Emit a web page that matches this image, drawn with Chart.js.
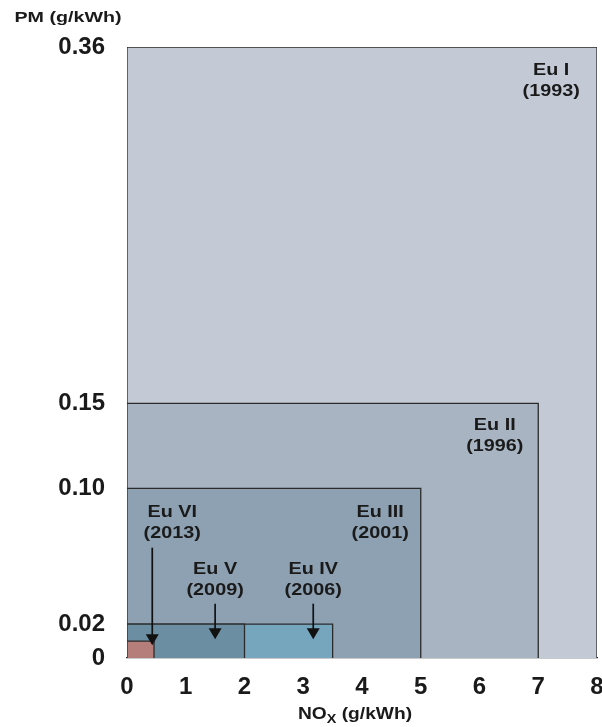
<!DOCTYPE html>
<html><head><meta charset="utf-8">
<script src="https://cdn.jsdelivr.net/npm/chart.js@4/dist/chart.umd.min.js"></script>
<style>html,body{margin:0;padding:0;background:#fff}canvas{display:block}</style>
</head><body>
<canvas id="c" width="602" height="727"></canvas>
<script>
// ---- data ----
const standards = ['Eu VI', 'Eu V', 'Eu IV', 'Eu III', 'Eu II', 'Eu I'];
const years = ['(2013)', '(2009)', '(2006)', '(2001)', '(1996)', '(1993)'];
const noxLimits = [0.46, 2.0, 3.5, 5.0, 7.0, 8.0];   // g/kWh
const pmLimits = [0.01, 0.02, 0.02, 0.10, 0.15, 0.36]; // g/kWh
const xTicks = [0, 1, 2, 3, 4, 5, 6, 7, 8];
const yTicks = [0, 0.02, 0.10, 0.15, 0.36];
const yTickLabels = ['0', '0.02', '0.10', '0.15', '0.36'];
const xTitle = ['NO', 'X', ' (g/kWh)'];
const yTitle = 'PM (g/kWh)';

const fills = ['#b67e7b', '#6c8ea2', '#76a6be', '#8da1b2', '#a8b4c2', '#c3cad6'];
const FONT = "'Liberation Sans', Arial, sans-serif";
const TXT = '#1a1a1a';

const datasets = standards.map((s, i) => ({
  label: s,
  data: [{x: 0, y: 0}, {x: 0, y: pmLimits[i]}, {x: noxLimits[i], y: pmLimits[i]}, {x: noxLimits[i], y: 0}],
  showLine: true,
  fill: 'origin',
  backgroundColor: fills[i],
  borderColor: '#2b2b2b',
  borderWidth: 1.3,
  pointRadius: 0,
  tension: 0
}));

function stretchText(ctx, text, x, y, size, sx) {
  ctx.save();
  ctx.font = 'bold ' + size + 'px ' + FONT;
  ctx.translate(x, y);
  ctx.scale(sx, 1);
  ctx.fillText(text, 0, 0);
  ctx.restore();
}

const annotate = {
  id: 'annotate',
  afterDatasetsDraw(chart) {
    const ctx = chart.ctx;
    const xs = chart.scales.x, ys = chart.scales.y;
    // label anchors in data units (NOx, PM) for the first line centre
    const anchors = [[0.77, 0.086], [1.50, 0.052], [3.17, 0.052], [4.31, 0.086], [6.26, 0.137], [7.22, 0.346]];
    ctx.save();
    ctx.fillStyle = TXT;
    ctx.textAlign = 'center';
    ctx.textBaseline = 'middle';
    standards.forEach((s, i) => {
      const px = xs.getPixelForValue(anchors[i][0]);
      const py = ys.getPixelForValue(anchors[i][1]);
      stretchText(ctx, s, px, py, 16.5, 1.2);
      stretchText(ctx, years[i], px, py + 21, 16.5, 1.2);
    });
    // arrows: [x, yFrom, yTo] in data units
    const arrows = [[0.43, 0.065, 0.0075], [1.50, 0.032, 0.011], [3.17, 0.032, 0.011]];
    ctx.strokeStyle = '#111';
    ctx.lineWidth = 1.7;
    arrows.forEach(a => {
      const px = xs.getPixelForValue(a[0]);
      const y0 = ys.getPixelForValue(a[1]);
      const y1 = ys.getPixelForValue(a[2]);
      ctx.beginPath();
      ctx.moveTo(px, y0);
      ctx.lineTo(px, y1 - 9);
      ctx.stroke();
      ctx.beginPath();
      ctx.moveTo(px - 6.5, y1 - 11);
      ctx.lineTo(px + 6.5, y1 - 11);
      ctx.lineTo(px, y1);
      ctx.closePath();
      ctx.fillStyle = '#111';
      ctx.fill();
    });
    ctx.restore();
  },
  afterDraw(chart) {
    const ctx = chart.ctx;
    const a = chart.chartArea;
    ctx.save();
    ctx.fillStyle = TXT;
    ctx.textBaseline = 'middle';
    // y title
    ctx.textAlign = 'center';
    stretchText(ctx, yTitle, 68, 18, 15.5, 1.27);
    // x title with subscript
    ctx.textAlign = 'left';
    const sx = 1.2;
    ctx.font = 'bold 16px ' + FONT;
    const w0 = ctx.measureText(xTitle[0]).width * sx;
    const w2 = ctx.measureText(xTitle[2]).width * sx;
    ctx.font = 'bold 12px ' + FONT;
    const w1 = ctx.measureText(xTitle[1]).width * sx;
    const total = w0 + w1 + w2;
    const cx = (a.left + a.right) / 2 - 7;
    let x = cx - total / 2;
    const y = 715;
    stretchText(ctx, xTitle[0], x, y, 16, sx); x += w0;
    stretchText(ctx, xTitle[1], x, y + 5, 12, sx); x += w1;
    stretchText(ctx, xTitle[2], x, y, 16, sx);
    ctx.restore();
  }
};

new Chart(document.getElementById('c'), {
  type: 'scatter',
  data: {datasets},
  options: {
    responsive: false,
    animation: false,
    layout: {padding: {top: 47, right: 5, left: 0, bottom: 0}},
    plugins: {legend: {display: false}, tooltip: {enabled: false}},
    scales: {
      x: {
        type: 'linear', min: 0, max: 8,
        afterBuildTicks: s => { s.ticks = xTicks.map(v => ({value: v})); },
        afterFit: s => { s.height = 69; s.paddingLeft = 0; s.paddingRight = 0; },
        grid: {display: false, drawTicks: false},
        border: {display: true, color: '#2b2b2b', width: 1.3},
        ticks: {padding: 15, color: TXT, font: {family: FONT, size: 24, weight: 'bold'}}
      },
      y: {
        type: 'linear', min: 0, max: 0.36,
        afterBuildTicks: s => { s.ticks = yTicks.map(v => ({value: v})); },
        afterFit: s => { s.width = 127; s.paddingTop = 0; s.paddingBottom = 0; },
        grid: {display: false, drawTicks: false},
        border: {display: false},
        ticks: {
          padding: 22, color: TXT, font: {family: FONT, size: 24, weight: 'bold'},
          callback: v => yTickLabels[yTicks.indexOf(v)] ?? ''
        }
      }
    }
  },
  plugins: [annotate]
});
</script>
</body></html>
